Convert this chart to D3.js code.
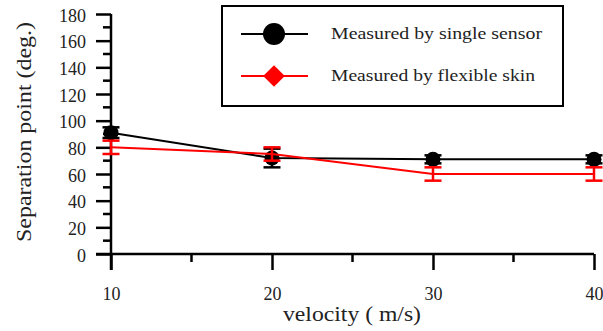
<!DOCTYPE html>
<html><head><meta charset="utf-8">
<script src="https://cdn.jsdelivr.net/npm/d3@7"></script>
<style>
body{margin:0;background:#fff}svg{display:block}
svg text{font-family:"Liberation Serif","Tinos","Times New Roman","DejaVu Serif",serif}
</style>
</head><body>
<svg id="c" width="603" height="331"></svg>
<script>
const velocity = [10, 20, 30, 40];
const singleSensor = [91, 72, 71, 71];
const singleSensorErr = [4, 7, 3, 3];
const flexibleSkin = [80, 75, 60, 60];
const flexibleSkinErr = [5, 5, 5, 5];
const yTicks = [0, 20, 40, 60, 80, 100, 120, 140, 160, 180];
const xTicks = [10, 20, 30, 40];
const seriesNames = ["Measured by single sensor", "Measured by flexible skin"];

const FONT = "Liberation Serif, Tinos, Times New Roman, DejaVu Serif, serif";
const svg = d3.select("#c").attr("font-family", FONT);
const x = d3.scaleLinear().domain([10, 40]).range([111, 594]);
const y = d3.scaleLinear().domain([0, 180]).range([254, 14]);

// Y axis
const yAxis = svg.append("g").attr("transform", `translate(${x(10)},0)`)
  .call(d3.axisLeft(y).tickValues(yTicks).tickSize(15).tickPadding(10).tickFormat(d3.format("d")));
yAxis.attr("font-family", FONT).attr("font-size", 18);
yAxis.select(".domain").remove();
yAxis.selectAll(".tick line").attr("stroke", "#000").attr("stroke-width", 2.5);
yAxis.selectAll("text").attr("font-family", FONT).attr("font-size", 18).attr("fill", "#222").attr("dy", "0.4em");
svg.append("g").selectAll("line").data(d3.range(10, 180, 20)).join("line")
  .attr("x1", x(10) - 8).attr("x2", x(10)).attr("y1", d => y(d)).attr("y2", d => y(d))
  .attr("stroke", "#000").attr("stroke-width", 2.5);
svg.append("line").attr("x1", x(10)).attr("x2", x(10)).attr("y1", y(180)).attr("y2", y(0) + 16)
  .attr("stroke", "#000").attr("stroke-width", 2.5);

// X axis
const xAxis = svg.append("g").attr("transform", `translate(0,${y(0)})`)
  .call(d3.axisBottom(x).tickValues(xTicks).tickSize(16).tickPadding(17).tickFormat(d3.format("d")));
xAxis.attr("font-family", FONT).attr("font-size", 18);
xAxis.select(".domain").remove();
xAxis.selectAll(".tick line").attr("stroke", "#000").attr("stroke-width", 2.5);
xAxis.selectAll("text").attr("font-family", FONT).attr("font-size", 18).attr("fill", "#222");
svg.append("g").selectAll("line").data([15, 25, 35]).join("line")
  .attr("x1", d => x(d)).attr("x2", d => x(d)).attr("y1", y(0)).attr("y2", y(0) + 8)
  .attr("stroke", "#000").attr("stroke-width", 2.5);
svg.append("line").attr("x1", x(10) - 15).attr("x2", x(40)).attr("y1", y(0)).attr("y2", y(0))
  .attr("stroke", "#000").attr("stroke-width", 2.5);

// Titles
svg.append("text").attr("transform", `translate(31,132) rotate(-90)`)
  .attr("text-anchor", "middle").attr("font-family", FONT).attr("font-size", 22).attr("fill", "#222")
  .attr("textLength", 220).attr("lengthAdjust", "spacingAndGlyphs")
  .text("Separation point (deg.)");
svg.append("text").attr("x", 352).attr("y", 321).attr("text-anchor", "middle")
  .attr("font-family", FONT).attr("font-size", 21).attr("fill", "#222")
  .attr("textLength", 138).attr("lengthAdjust", "spacingAndGlyphs")
  .text("velocity ( m/s)");

const line = d3.line().x((d, i) => x(velocity[i])).y(d => y(d));
const cap = 8.5;
function errBars(vals, errs, color) {
  const g = svg.append("g").attr("stroke", color).attr("stroke-width", 2.5);
  vals.forEach((v, i) => {
    const cx = x(velocity[i]);
    g.append("line").attr("x1", cx).attr("x2", cx).attr("y1", y(v - errs[i])).attr("y2", y(v + errs[i]));
    g.append("line").attr("x1", cx - cap).attr("x2", cx + cap).attr("y1", y(v - errs[i])).attr("y2", y(v - errs[i]));
    g.append("line").attr("x1", cx - cap).attr("x2", cx + cap).attr("y1", y(v + errs[i])).attr("y2", y(v + errs[i]));
  });
}
// single sensor
errBars(singleSensor, singleSensorErr, "#000");
svg.append("path").datum(singleSensor).attr("d", line).attr("fill", "none").attr("stroke", "#000").attr("stroke-width", 2);
svg.append("g").selectAll("circle").data(singleSensor).join("circle")
  .attr("cx", (d, i) => x(velocity[i])).attr("cy", d => y(d)).attr("r", 7.5).attr("fill", "#000");
// flexible skin
svg.append("path").datum(flexibleSkin).attr("d", line).attr("fill", "none").attr("stroke", "#f00").attr("stroke-width", 2);
errBars(flexibleSkin, flexibleSkinErr, "#f00");

// Legend
svg.append("rect").attr("x", 222).attr("y", 6).attr("width", 341).attr("height", 100)
  .attr("fill", "#fff").attr("stroke", "#000").attr("stroke-width", 2);
const leg = [{name: seriesNames[0], color: "#000", y: 34, len: 211}, {name: seriesNames[1], color: "#f00", y: 76, len: 204}];
leg.forEach((l, i) => {
  svg.append("line").attr("x1", 241).attr("x2", 308).attr("y1", l.y).attr("y2", l.y)
    .attr("stroke", l.color).attr("stroke-width", 2);
  if (i === 0) svg.append("circle").attr("cx", 274).attr("cy", l.y).attr("r", 11).attr("fill", "#000");
  else svg.append("path").attr("d", d3.symbol(d3.symbolDiamond2, 300)()).attr("transform", `translate(274,${l.y})`).attr("fill", "#f00");
  svg.append("text").attr("x", 331).attr("y", l.y + 5).attr("font-family", FONT).attr("font-size", 16)
    .attr("textLength", l.len).attr("lengthAdjust", "spacingAndGlyphs")
    .attr("fill", "#222").text(l.name);
});
</script>
</body></html>
